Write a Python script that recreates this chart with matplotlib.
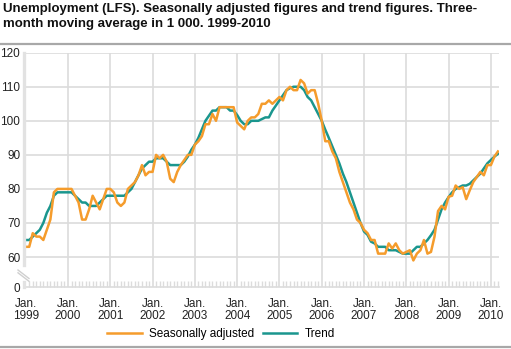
import matplotlib
matplotlib.use("Agg")
import matplotlib.pyplot as plt
import matplotlib.transforms as mtransforms
from matplotlib.lines import Line2D
import numpy as np

plt.rcParams['font.family'] = ['Liberation Sans', 'DejaVu Sans']

title = ("Unemployment (LFS). Seasonally adjusted figures and trend figures. Three-\n"
         "month moving average in 1 000. 1999-2010")

# Monthly values, Jan 1999 - Mar 2010 (in 1 000)
seasonally_adjusted = [
    63, 63, 67, 66, 66, 65, 68, 71, 79, 80, 80, 80,            # 1999
    80, 80, 78, 76, 71, 71, 74, 78, 76, 74, 77, 80,            # 2000
    80, 79, 76, 75, 76, 80, 81, 82, 84, 87, 84, 85,            # 2001
    85, 90, 89, 90, 88, 83, 82, 85, 87, 88.5, 90, 90,          # 2002
    93, 94, 95.5, 99, 99, 102, 100, 104, 104, 104, 104, 104,   # 2003
    99.5, 98.5, 97.5, 100, 101, 101, 102, 105, 105, 106, 105, 106,  # 2004
    107, 106, 109, 110, 109, 109, 112, 111, 108, 109, 109, 105,     # 2005
    100, 94, 94, 91, 89, 85, 82, 79, 76, 74, 71, 70,           # 2006
    68, 67, 65, 65, 61, 61, 61, 64, 62.5, 64, 62, 61,          # 2007
    61.5, 62, 59, 61, 62, 65, 61, 61.5, 66, 73.5, 75, 74,      # 2008
    77.7, 78, 81, 80, 80.5, 77, 79.6, 82, 83.5, 85, 84, 87,    # 2009
    87, 89.5, 91,                                              # 2010
]
trend = [
    65, 65, 66, 67, 68, 70, 73, 75, 78, 79, 79, 79,
    79, 79, 78, 77, 76, 76, 75, 75, 75, 76, 77, 78,
    78, 78, 78, 78, 78, 79, 80, 82, 84, 86, 87, 88,
    88, 89, 89, 89, 88, 87, 87, 87, 87, 88, 89.5, 91.5,
    93, 95, 97.5, 100, 101.5, 103, 103, 104, 104, 104, 103, 103,
    101.7, 100, 99, 99, 100, 100, 100, 100.5, 101, 101, 103, 104.5,
    106, 107.5, 109, 109.6, 110, 110, 110, 109, 107, 106, 104, 102,
    100, 97.4, 95, 92.5, 90, 87.5, 84.5, 82, 79, 76, 73, 70,
    67.5, 66.5, 64.5, 64, 63, 63, 63, 62, 62, 62, 61.5, 61,
    61, 61, 62, 63, 63, 64, 65, 66.4, 68, 71, 74, 76,
    77.6, 79, 80, 80.5, 81, 81, 81.5, 82.5, 83.5, 84.5, 86, 87.5,
    88.5, 89.5, 90.3,
]
years = list(range(1999, 2011))
x_labels = [f"Jan.\n{y}" for y in years]
y_ticks = [60, 70, 80, 90, 100, 110, 120]

ZERO_POS = 51.2  # position of the "0" label on the broken axis

orange = '#f59c2c'
teal = '#1a968e'
grid_c = '#dcdcdc'

W, H = 511, 349
fig = plt.figure(figsize=(W / 100, H / 100), dpi=100)
ax = fig.add_axes([25.7 / W, (H - 287) / H, (499 - 25.7) / W, (287 - 52.7) / H])

months = np.arange(len(seasonally_adjusted))
ax.set_xlim(0, 134.3)
ax.set_ylim(ZERO_POS, 120)

for v in y_ticks:
    ax.axhline(v, color=grid_c, lw=1.2, zorder=1)
for i in range(1, len(years)):
    ax.axvline(12 * i, color=grid_c, lw=1.2, zorder=1)

ax.plot(months, trend, color=teal, lw=1.8, zorder=3, label='Trend')
ax.plot(months, seasonally_adjusted, color=orange, lw=1.8, zorder=4, label='Seasonally adjusted')

for s in ['top', 'right', 'left']:
    ax.spines[s].set_visible(False)
ax.spines['bottom'].set_color(grid_c)
ax.spines['bottom'].set_linewidth(1.2)

ax.set_yticks([ZERO_POS] + y_ticks)
ax.set_yticklabels(['0'] + [str(v) for v in y_ticks], fontsize=8.5, color='#222222')
ax.tick_params(axis='y', length=0, pad=4)
ax.set_xticks([12 * i for i in range(len(years))])
ax.set_xticklabels(x_labels, fontsize=8.5, color='#222222', linespacing=1.0)
ax.set_xticks(np.arange(0, 135), minor=True)
ax.tick_params(axis='x', which='major', length=0, pad=8)
ax.tick_params(axis='x', which='minor', direction='in', length=4, color=grid_c, width=1)

# left axis strip with break
tr = mtransforms.blended_transform_factory(fig.transFigure, ax.transData)
xs = 23.5 / W
fig.add_artist(Line2D([xs, xs], [120, 57.6], transform=tr, color='#e2e2e2', lw=2.4))
fig.add_artist(Line2D([xs, xs], [52.6, ZERO_POS], transform=tr, color='#e2e2e2', lw=2.4))
for off in (0, 2.8):
    fig.add_artist(Line2D([18 / W, 29 / W], [(H - 270 - off) / H, (H - 278.5 - off) / H],
                          transform=fig.transFigure, color='#cfcfcf', lw=1))

# title and separators
fig.text(3 / W, 1 - 3 / H, title, fontsize=9.5, fontweight='bold', va='top', ha='left',
         linespacing=1.28, color='#111111')
fig.add_artist(Line2D([0, 1], [(H - 43.5) / H] * 2, transform=fig.transFigure, color='#a8a8a8', lw=1.6))
fig.add_artist(Line2D([0, 1], [(H - 347) / H] * 2, transform=fig.transFigure, color='#a8a8a8', lw=1.6))

handles, labels = ax.get_legend_handles_labels()
fig.legend(handles[::-1], labels[::-1], loc='center', bbox_to_anchor=(221 / W, (H - 334) / H),
           ncol=2, frameon=False, fontsize=8.5, handlelength=2.9, handletextpad=0.6,
           columnspacing=0.8)

fig.savefig('out.png', dpi=100)
